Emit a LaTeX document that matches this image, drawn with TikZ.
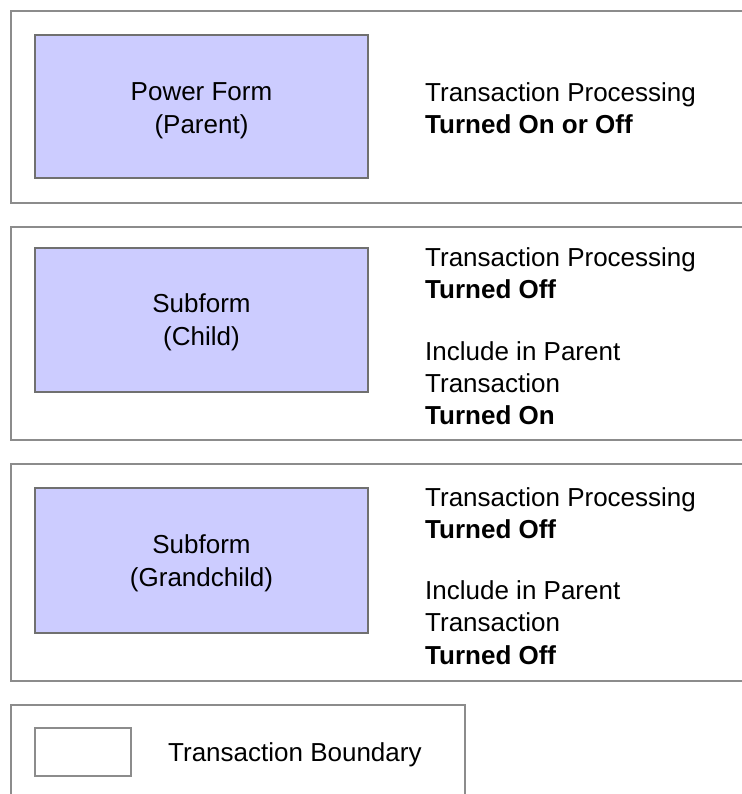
\documentclass[tikz,border=0pt]{standalone}
\usepackage{fontspec}
\setmainfont{Liberation Sans}
\definecolor{formfill}{HTML}{CCCCFF}
\definecolor{outline}{HTML}{8C8C8C}
\definecolor{formline}{HTML}{707070}
\begin{document}
\begin{tikzpicture}[x=1bp,y=-1bp,
  outer/.style={draw=outline, line width=1.6bp},
  form/.style={draw=formline, line width=2bp, fill=formfill, rectangle, inner sep=0pt},
  txt/.style={anchor=base west, inner sep=0pt, font=\fontsize{26bp}{32bp}\selectfont},
  btxt/.style={anchor=base west, inner sep=0pt, font=\fontsize{26bp}{32bp}\selectfont\bfseries},
  ctxt/.style={anchor=base, inner sep=0pt, font=\fontsize{26bp}{32bp}\selectfont}]
\useasboundingbox (0,0) rectangle (742,794);
\clip (0,0) rectangle (742,794);
% transaction boundaries
\draw[outer] (760,11) -- (11,11) -- (11,203) -- (760,203);
\draw[outer] (760,227) -- (11,227) -- (11,440) -- (760,440);
\draw[outer] (760,464) -- (11,464) -- (11,681) -- (760,681);
% forms
\draw[form] (35,35) rectangle (368,178);
\draw[form] (35,248) rectangle (368,392);
\draw[form] (35,488) rectangle (368,633);
\node[ctxt] (p1) at (201.5,100) {Power Form};
\node[ctxt] (p2) at (201.5,133) {(Parent)};
\node[ctxt] (c1) at (201.5,312) {Subform};
\node[ctxt] (c2) at (201.5,345) {(Child)};
\node[ctxt] (g1) at (201.5,553) {Subform};
\node[ctxt] (g2) at (201.5,586) {(Grandchild)};
% right texts
\node[txt]  (t1a) at (425,101) {Transaction Processing};
\node[btxt] (t1b) at (425,133) {Turned On or Off};
\node[txt]  (t2a) at (425,266) {Transaction Processing};
\node[btxt] (t2b) at (425,298) {Turned Off};
\node[txt]  (t2c) at (425,360) {Include in Parent};
\node[txt]  (t2d) at (425,392) {Transaction};
\node[btxt] (t2e) at (425,424) {Turned On};
\node[txt]  (t3a) at (425,506) {Transaction Processing};
\node[btxt] (t3b) at (425,538) {Turned Off};
\node[txt]  (t3c) at (425,599) {Include in Parent};
\node[txt]  (t3d) at (425,631) {Transaction};
\node[btxt] (t3e) at (425,664) {Turned Off};
% legend
\draw[outer] (11,800) -- (11,705) -- (465,705) -- (465,800);
\draw[outer] (35,728) rectangle (131,776);
\node[txt] (leg) at (168,761) {Transaction Boundary};
\end{tikzpicture}
\end{document}
